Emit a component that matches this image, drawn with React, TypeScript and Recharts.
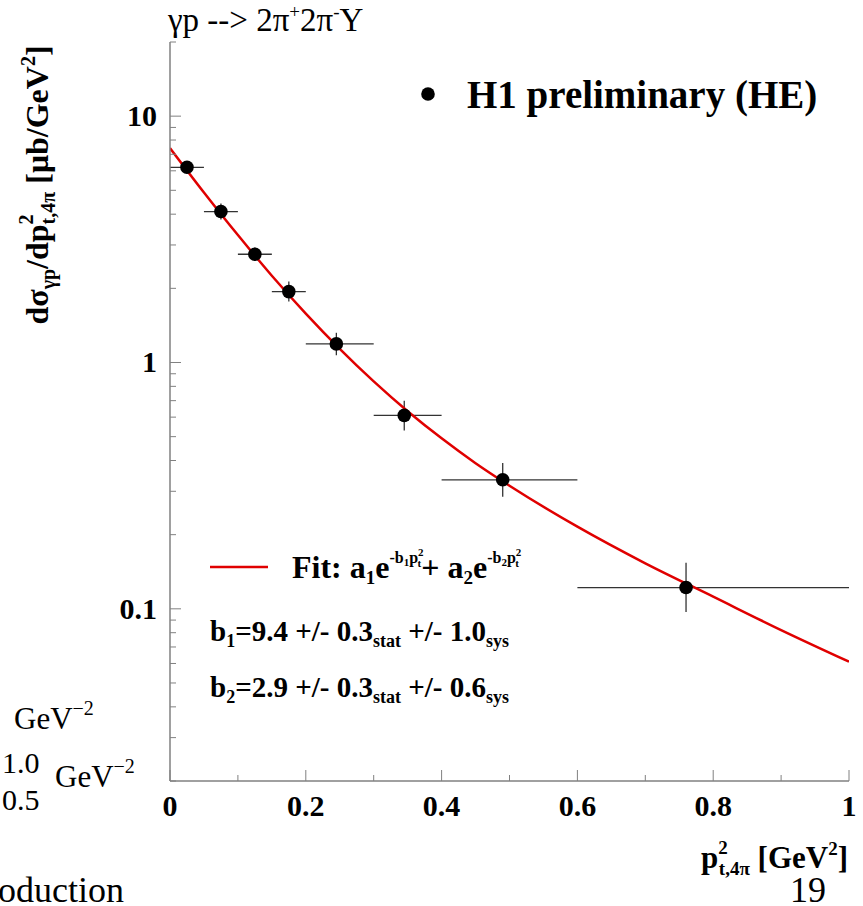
import React from "react";
import {
  ComposedChart,
  Line,
  Scatter,
  ErrorBar,
  XAxis,
  YAxis,
} from "recharts";

const FONT = "Liberation Serif";
const FRAME = "#808080";
const FIT_RED = "#e00000";

// measured points: x = bin centre, y = cross section, ex = bin half widths, ey = errors
const ptX = [0.025, 0.075, 0.125, 0.175, 0.245, 0.345, 0.49, 0.76];
const ptY = [6.2, 4.1, 2.75, 1.94, 1.19, 0.61, 0.334, 0.122];
const ptEx = [
  [0.025, 0.025],
  [0.025, 0.025],
  [0.025, 0.025],
  [0.025, 0.025],
  [0.045, 0.055],
  [0.045, 0.055],
  [0.09, 0.11],
  [0.16, 0.24],
];
const ptEy = [
  [0.35, 0.37],
  [0.29, 0.32],
  [0.17, 0.18],
  [0.17, 0.19],
  [0.12, 0.13],
  [0.08, 0.09],
  [0.049, 0.057],
  [0.025, 0.032],
];

// fit curve
const fitX = [0, 0.05, 0.1, 0.15, 0.2, 0.25, 0.3, 0.35, 0.4, 0.45, 0.5, 0.6, 0.7, 0.8, 0.9, 1.0];
const fitY = [7.42, 4.9, 3.29, 2.25, 1.58, 1.136, 0.838, 0.634, 0.492, 0.39, 0.316, 0.2155, 0.153, 0.112, 0.082, 0.061];

const xTicks = [0, 0.1, 0.2, 0.3, 0.4, 0.5, 0.6, 0.7, 0.8, 0.9, 1];
const xLabels: { [k: string]: string } = { "0": "0", "0.2": "0.2", "0.4": "0.4", "0.6": "0.6", "0.8": "0.8", "1": "1" };
const yTicks = [
  0.02, 0.03, 0.04, 0.05, 0.06, 0.07, 0.08, 0.09, 0.1,
  0.2, 0.3, 0.4, 0.5, 0.6, 0.7, 0.8, 0.9, 1,
  2, 3, 4, 5, 6, 7, 8, 9, 10, 20,
];
const yLabels: { [k: string]: string } = { "0.1": "0.1", "1": "1", "10": "10" };

const points = ptX.map((x, i) => ({ x, y: ptY[i], ex: ptEx[i], ey: ptEy[i] }));
const fitData = fitX.map((x, i) => ({ x, fit: fitY[i] }));

const MAJOR = 11;
const MINOR = 6;

const BottomTick = (props: any) => {
  const { x, y, payload } = props;
  const label = xLabels[String(payload.value)];
  const len = label !== undefined ? MAJOR : MINOR;
  return (
    <g>
      <line x1={x} x2={x} y1={y} y2={y - len} stroke={FRAME} strokeWidth={1} />
      {label !== undefined && (
        <text x={x} y={y + 35} textAnchor="middle" fontFamily={FONT} fontWeight="bold" fontSize={30} fill="#000">
          {label}
        </text>
      )}
    </g>
  );
};

const TopTick = (props: any) => {
  const { x, y, payload } = props;
  const len = xLabels[String(payload.value)] !== undefined ? MAJOR : MINOR;
  return <line x1={x} x2={x} y1={y} y2={y + len} stroke={FRAME} strokeWidth={1} />;
};

const LeftTick = (props: any) => {
  const { x, y, payload } = props;
  const label = yLabels[String(payload.value)];
  const len = label !== undefined ? MAJOR : MINOR;
  return (
    <g>
      <line x1={x} x2={x + len} y1={y} y2={y} stroke={FRAME} strokeWidth={1} />
      {label !== undefined && (
        <text x={x - 13} y={y + 10} textAnchor="end" fontFamily={FONT} fontWeight="bold" fontSize={30} fill="#000">
          {label}
        </text>
      )}
    </g>
  );
};

const RightTick = (props: any) => {
  const { x, y, payload } = props;
  const len = yLabels[String(payload.value)] !== undefined ? MAJOR : MINOR;
  return <line x1={x} x2={x - len} y1={y} y2={y} stroke={FRAME} strokeWidth={1} />;
};

const Dot = (props: any) => <circle cx={props.cx} cy={props.cy} r={6.8} fill="#000" />;

const Annotations = () => (
  <svg
    width={863}
    height={906}
    style={{ position: "absolute", left: 0, top: 0, pointerEvents: "none" }}
  >
    <g fontFamily={FONT} fill="#000">
      {/* title */}
      <text x={168} y={31} fontSize={33}>
        γp --&gt; 2π<tspan fontSize={19} dy={-13}>+</tspan>
        <tspan dy={13}>2π</tspan>
        <tspan fontSize={19} dy={-13}>-</tspan>
        <tspan dy={13}>Y</tspan>
      </text>

      {/* y axis title */}
      <text transform="translate(48,185) rotate(-90)" textAnchor="middle" fontSize={32} fontWeight="bold">
        dσ<tspan fontSize={20} dy={7}>γp</tspan>
        <tspan dy={-7}>/dp</tspan>
        <tspan fontSize={20} dy={-15}>2</tspan>
        <tspan fontSize={20} dx={-10} dy={22}>t,4π</tspan>
        <tspan dy={-7}> [μb/GeV</tspan>
        <tspan fontSize={20} dy={-13}>2</tspan>
        <tspan dy={13}>]</tspan>
      </text>

      {/* x axis title */}
      <text x={848} y={868} textAnchor="end" fontSize={31} fontWeight="bold">
        p<tspan fontSize={19} dy={-14}>2</tspan>
        <tspan fontSize={19} dx={-9} dy={21}>t,4π</tspan>
        <tspan dy={-7}> [GeV</tspan>
        <tspan fontSize={19} dy={-13}>2</tspan>
        <tspan dy={13}>]</tspan>
      </text>

      {/* data legend */}
      <circle cx={428} cy={94} r={6.8} fill="#000" />
      <text x={467} y={108} fontSize={39} fontWeight="bold">
        H1 preliminary (HE)
      </text>

      {/* fit legend */}
      <line x1={210} x2={268} y1={567} y2={567} stroke={FIT_RED} strokeWidth={2.5} />
      <text x={292} y={578} fontSize={32} fontWeight="bold">
        Fit: a<tspan fontSize={19} dy={6}>1</tspan>
        <tspan dy={-6}>e</tspan>
        <tspan fontSize={16} dy={-15}>-b</tspan>
        <tspan fontSize={11} dy={3}>1</tspan>
        <tspan fontSize={16} dy={-3}>p</tspan>
        <tspan fontSize={11} dy={-7}>2</tspan>
        <tspan fontSize={11} dx={-6} dy={11}>t</tspan>
        <tspan dy={11}>+ a</tspan>
        <tspan fontSize={19} dy={6}>2</tspan>
        <tspan dy={-6}>e</tspan>
        <tspan fontSize={16} dy={-15}>-b</tspan>
        <tspan fontSize={11} dy={3}>2</tspan>
        <tspan fontSize={16} dy={-3}>p</tspan>
        <tspan fontSize={11} dy={-7}>2</tspan>
        <tspan fontSize={11} dx={-6} dy={11}>t</tspan>
      </text>

      <text x={210} y={641} fontSize={29} fontWeight="bold">
        b<tspan fontSize={18} dy={6}>1</tspan>
        <tspan dy={-6}>=9.4 +/- 0.3</tspan>
        <tspan fontSize={18} dy={6}>stat</tspan>
        <tspan dy={-6}> +/- 1.0</tspan>
        <tspan fontSize={18} dy={6}>sys</tspan>
      </text>
      <text x={210} y={697} fontSize={29} fontWeight="bold">
        b<tspan fontSize={18} dy={6}>2</tspan>
        <tspan dy={-6}>=2.9 +/- 0.3</tspan>
        <tspan fontSize={18} dy={6}>stat</tspan>
        <tspan dy={-6}> +/- 0.6</tspan>
        <tspan fontSize={18} dy={6}>sys</tspan>
      </text>

      {/* leftovers of the slide around the plot */}
      <text x={14} y={729} fontSize={31}>
        GeV<tspan fontSize={20} dy={-14}>−2</tspan>
      </text>
      <text x={2} y={773} fontSize={30}>1.0</text>
      <text x={55} y={787} fontSize={31}>
        GeV<tspan fontSize={20} dy={-14}>−2</tspan>
      </text>
      <text x={2} y={810} fontSize={30}>0.5</text>
      <text x={-2} y={902} fontSize={36}>oduction</text>
      <text x={790} y={902} fontSize={36}>19</text>
    </g>
  </svg>
);

export default function App() {
  return (
    <div style={{ position: "absolute", left: 0, top: 0, width: 863, height: 906, background: "#fff" }}>
      <ComposedChart width={863} height={906} margin={{ top: 42, right: 14, bottom: 65, left: 0 }}>
        <XAxis
          dataKey="x"
          type="number"
          domain={[0, 1]}
          ticks={xTicks}
          interval={0}
          allowDataOverflow
          height={60}
          tickSize={0}
          tickMargin={0}
          tickLine={false}
          axisLine={{ stroke: FRAME, strokeWidth: 1.5 }}
          tick={BottomTick}
        />
        <XAxis
          xAxisId="top"
          orientation="top"
          dataKey="x"
          type="number"
          domain={[0, 1]}
          ticks={xTicks}
          interval={0}
          allowDataOverflow
          height={0}
          tickSize={0}
          tickMargin={0}
          tickLine={false}
          axisLine={{ stroke: FRAME, strokeWidth: 1.5 }}
          tick={TopTick}
        />
        <YAxis
          type="number"
          scale="log"
          domain={[0.02, 20]}
          ticks={yTicks}
          interval={0}
          allowDataOverflow
          width={170}
          tickSize={0}
          tickMargin={0}
          tickLine={false}
          axisLine={{ stroke: FRAME, strokeWidth: 1.5 }}
          tick={LeftTick}
        />
        <YAxis
          yAxisId="r"
          orientation="right"
          type="number"
          scale="log"
          domain={[0.02, 20]}
          ticks={yTicks}
          interval={0}
          allowDataOverflow
          width={0}
          tickSize={0}
          tickMargin={0}
          tickLine={false}
          axisLine={{ stroke: FRAME, strokeWidth: 1.5 }}
          tick={RightTick}
        />
        <Scatter data={points} dataKey="y" shape={Dot} isAnimationActive={false}>
          <ErrorBar dataKey="ex" direction="x" width={0} stroke="#333" strokeWidth={1.3} />
          <ErrorBar dataKey="ey" direction="y" width={0} stroke="#333" strokeWidth={1.3} />
        </Scatter>
        <Line
          data={fitData}
          dataKey="fit"
          type="monotone"
          stroke={FIT_RED}
          strokeWidth={2.5}
          dot={false}
          activeDot={false}
          isAnimationActive={false}
        />
      </ComposedChart>
      <Annotations />
    </div>
  );
}
